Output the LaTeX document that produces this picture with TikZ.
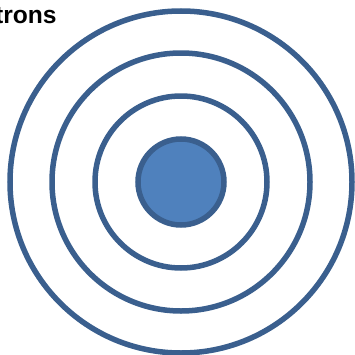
\documentclass[tikz,border=0pt]{standalone}
\usepackage{fontspec}
\setmainfont{Liberation Sans}
\usepackage{xcolor}
\usepackage{tikz}
\definecolor{shellblue}{HTML}{3A5F8E}
\definecolor{coreblue}{HTML}{4F81BD}
\tikzset{
  shellnode/.style={circle,draw=shellblue,line width=5.5*0.02cm,
    inner sep=0pt,outer sep=0pt},
  corenode/.style={shellnode,fill=coreblue},
  labelnode/.style={inner sep=0pt,font=\fontsize{14}{16}\selectfont\bfseries}
}
\begin{document}
\begin{tikzpicture}[x=0.02cm,y=-0.02cm]
  \useasboundingbox (0,0) rectangle (355,355);
  \coordinate (centre) at (181,182);

  \node[labelnode,anchor=base east] (title) at (57,23) {Electrons};

  % shells, outermost first
  \node[shellnode,minimum size=342*0.02cm] (shellthree) at (centre) {};
  \node[shellnode,minimum size=258*0.02cm] (shelltwo) at (centre) {};
  \node[shellnode,minimum size=172*0.02cm] (shellone) at (centre) {};
  \node[corenode,minimum size=86*0.02cm] (nucleus) at (centre) {};
\end{tikzpicture}
\end{document}
